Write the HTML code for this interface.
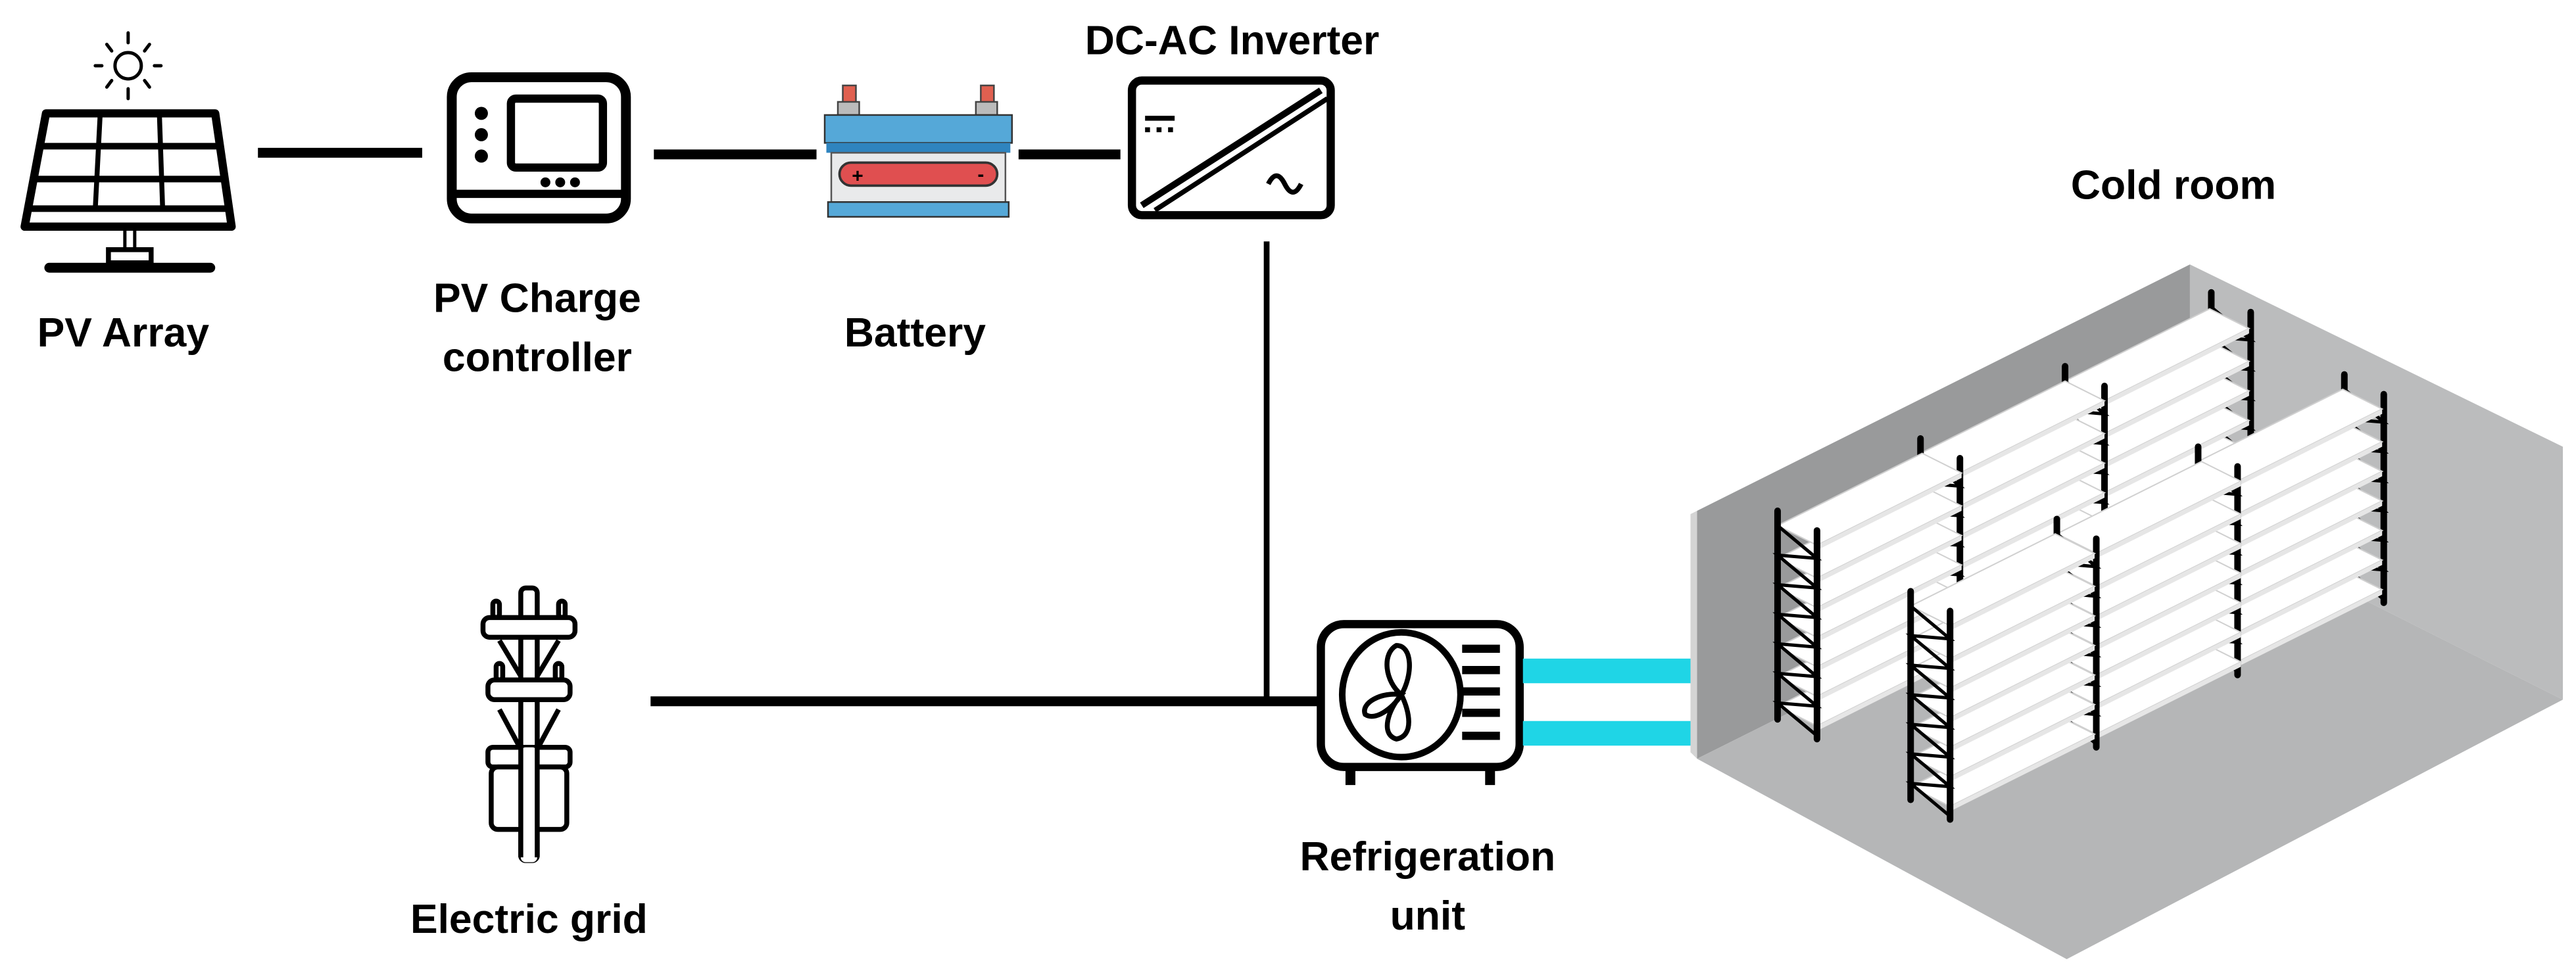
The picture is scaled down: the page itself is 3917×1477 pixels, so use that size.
<!DOCTYPE html>
<html><head><meta charset="utf-8"><style>
html,body{margin:0;padding:0;background:#fff;}
svg{display:block;}
text{font-family:"Liberation Sans",sans-serif;font-weight:bold;font-size:25px;fill:#000;text-anchor:middle;}
</style></head><body>
<svg width="3917" height="1477" viewBox="0 0 1568 591.2" xmlns="http://www.w3.org/2000/svg">
<defs>
<g id="lad">
  <line x1="-24" y1="-12" x2="-24" y2="-139" stroke="#000" stroke-width="4" stroke-linecap="round"/>
  <line x1="0" y1="0" x2="0" y2="-127" stroke="#000" stroke-width="4" stroke-linecap="round"/>
  <polyline points="-24,-130 0,-110 -24,-112 0,-92 -24,-94 0,-74 -24,-76 0,-56 -24,-58 0,-38 -24,-40 0,-20 -24,-22 0,-2" fill="none" stroke="#000" stroke-width="2"/>
</g>
<g id="shelf">
  <polygon points="0,0 88,-44 64,-56 -24,-12" fill="#fff" stroke="#d0d0d0" stroke-width="0.8"/>
  <polygon points="0,0 88,-44 88,-41 0,3" fill="#e6e6e6"/>
</g>
<g id="seg">
  <use href="#shelf" y="-8"/><use href="#shelf" y="-26"/><use href="#shelf" y="-44"/>
  <use href="#shelf" y="-62"/><use href="#shelf" y="-80"/><use href="#shelf" y="-98"/><use href="#shelf" y="-118"/>
  <use href="#lad"/>
</g>
</defs>

<!-- Sun -->
<g stroke="#000" stroke-width="2" fill="none" stroke-linecap="round">
  <circle cx="78" cy="40" r="8"/>
  <line x1="78" y1="20" x2="78" y2="26"/><line x1="78" y1="54" x2="78" y2="60"/>
  <line x1="58" y1="40" x2="62" y2="40"/><line x1="94" y1="40" x2="98" y2="40"/>
  <line x1="65" y1="27" x2="68" y2="31"/><line x1="91" y1="27" x2="88" y2="31"/>
  <line x1="65" y1="53" x2="68" y2="49"/><line x1="91" y1="53" x2="88" y2="49"/>
</g>
<!-- PV panel -->
<g stroke="#000" fill="none">
  <polygon points="28,69 131,69 141,138 15,138" stroke-width="5" stroke-linejoin="round"/>
  <line x1="25" y1="89" x2="133" y2="89" stroke-width="4"/>
  <line x1="22" y1="109" x2="136" y2="109" stroke-width="4"/>
  <line x1="19" y1="127" x2="139" y2="127" stroke-width="4"/>
  <line x1="61" y1="69" x2="58" y2="127" stroke-width="3"/>
  <line x1="97" y1="69" x2="99" y2="127" stroke-width="3"/>
  <line x1="76" y1="138" x2="76" y2="152" stroke-width="2"/><line x1="82" y1="138" x2="82" y2="152" stroke-width="2"/>
  <rect x="66" y="152" width="26" height="8" stroke-width="3"/>
  <line x1="30" y1="163" x2="128" y2="163" stroke-width="6" stroke-linecap="round"/>
</g>
<!-- Connectors -->
<g stroke="#000" stroke-width="6">
  <line x1="157" y1="93" x2="257" y2="93"/>
  <line x1="398" y1="94" x2="497" y2="94"/>
  <line x1="620" y1="94" x2="682" y2="94"/>
  <line x1="396" y1="427" x2="805" y2="427"/>
</g>
<line x1="771" y1="147" x2="771" y2="427" stroke="#000" stroke-width="3.5"/>
<!-- Charge controller -->
<g stroke="#000" fill="none">
  <rect x="275" y="47" width="106" height="86" rx="12" stroke-width="6"/>
  <rect x="311" y="60" width="56" height="42" rx="3" stroke-width="5"/>
  <line x1="277" y1="118" x2="379" y2="118" stroke-width="5"/>
</g>
<g fill="#000">
  <circle cx="293" cy="69" r="4"/><circle cx="293" cy="82" r="4"/><circle cx="293" cy="95" r="4"/>
  <circle cx="332" cy="111" r="3"/><circle cx="341" cy="111" r="3"/><circle cx="350" cy="111" r="3"/>
</g>
<!-- Battery -->
<g>
  <rect x="513" y="52" width="8" height="12" fill="#e06050" stroke="#444" stroke-width="1"/>
  <rect x="597" y="52" width="8" height="12" fill="#e06050" stroke="#444" stroke-width="1"/>
  <rect x="510" y="62" width="13" height="8" fill="#bbb" stroke="#444" stroke-width="1"/>
  <rect x="594" y="62" width="13" height="8" fill="#bbb" stroke="#444" stroke-width="1"/>
  <rect x="502" y="70" width="114" height="17" fill="#55a8d8" stroke="#333" stroke-width="1"/>
  <rect x="503" y="87" width="112" height="6" fill="#2f84bf"/>
  <rect x="506" y="93" width="106" height="30" fill="#e9eaeb" stroke="#555" stroke-width="1"/>
  <rect x="511" y="99" width="96" height="14" rx="7" fill="#e04f50" stroke="#333" stroke-width="1.5"/>
  <text x="522" y="111" style="font-size:12px">+</text><text x="597" y="110" style="font-size:12px">-</text>
  <rect x="504" y="123" width="110" height="9" fill="#55a8d8" stroke="#333" stroke-width="1"/>
</g>
<!-- Inverter -->
<g stroke="#000" fill="none">
  <rect x="689" y="49" width="121" height="82" rx="6" stroke-width="5"/>
  <line x1="695" y1="125" x2="804" y2="55" stroke-width="4"/>
  <line x1="703" y1="128" x2="808" y2="60" stroke-width="3"/>
  <line x1="697" y1="72" x2="715" y2="72" stroke-width="3"/>
  <path d="M697 79 h3 M704 79 h3 M711 79 h3" stroke-width="3"/>
  <path d="M772 112 q5 -10 10 0 t10 0" stroke-width="3"/>
</g>
<!-- Electric grid pole -->
<g stroke="#000" fill="#fff" stroke-width="3">
  <line x1="304" y1="390" x2="322" y2="420" /><line x1="340" y1="390" x2="322" y2="420"/>
  <line x1="304" y1="432" x2="318" y2="458"/><line x1="340" y1="432" x2="326" y2="458"/>
  <rect x="317" y="358" width="10" height="166" rx="3"/>
  <rect x="300" y="366" width="4" height="10" rx="2"/><rect x="340" y="366" width="4" height="10" rx="2"/>
  <rect x="302" y="404" width="4" height="10" rx="2"/><rect x="338" y="404" width="4" height="10" rx="2"/>
  <rect x="294" y="376" width="56" height="12" rx="4"/>
  <rect x="297" y="414" width="50" height="12" rx="4"/>
  <rect x="297" y="455" width="50" height="12" rx="3"/>
  <rect x="299" y="467" width="46" height="38" rx="4"/>
  <rect x="317" y="455" width="10" height="70" rx="3" stroke="none"/>
  <line x1="317" y1="455" x2="317" y2="522"/><line x1="327" y1="455" x2="327" y2="522"/>
</g>
<!-- Refrigeration unit -->
<g stroke="#000" fill="none">
  <rect x="804" y="380" width="121" height="87" rx="14" stroke-width="5"/>
  <ellipse cx="853" cy="423" rx="36" ry="38" stroke-width="4"/>
  <path d="M853 423 c-10 -8 -12 -25 -3 -30 c10 0 10 18 3 30 c5 10 8 25 -3 27 c-10 -3 -5 -18 3 -27 c-12 -2 -25 5 -22 12 c6 4 16 -3 22 -12" stroke-width="3"/>
  <g stroke-width="5"><line x1="890" y1="395" x2="913" y2="395"/><line x1="890" y1="408" x2="913" y2="408"/><line x1="890" y1="421" x2="913" y2="421"/><line x1="890" y1="434" x2="913" y2="434"/><line x1="890" y1="448" x2="913" y2="448"/></g>
  <g stroke-width="6"><line x1="822" y1="469" x2="822" y2="478"/><line x1="907" y1="469" x2="907" y2="478"/></g>
</g>
<rect x="927" y="401" width="106" height="15" fill="#1fd5e6"/>
<rect x="927" y="439" width="106" height="15" fill="#1fd5e6"/>
<!-- Cold room -->
<polygon points="1033,311 1333,161 1333,312 1033,462" fill="#999a9b"/>
<polygon points="1333,161 1560,272 1560,426 1333,312" fill="#bbbcbd"/>
<polygon points="1033,462 1333,312 1560,426 1258,584" fill="#b5b6b7"/>
<polygon points="1033,311 1033,462 1029,458 1029,313" fill="#d4d4d4"/>
<!-- back row (right to left) -->
<use href="#lad" x="1370" y="317"/>
<use href="#seg" x="1281" y="362"/>
<use href="#seg" x="1193" y="406"/>
<use href="#seg" x="1106" y="450"/>
<!-- front row -->
<use href="#lad" x="1451" y="367"/>
<use href="#seg" x="1362" y="411"/>
<use href="#seg" x="1276" y="455"/>
<use href="#seg" x="1187" y="499"/>
<!-- Labels -->
<text x="75" y="211">PV Array</text>
<text x="327" y="190">PV Charge</text>
<text x="327" y="226">controller</text>
<text x="557" y="211">Battery</text>
<text x="750" y="33">DC-AC Inverter</text>
<text x="1323" y="121">Cold room</text>
<text x="322" y="568">Electric grid</text>
<text x="869" y="530">Refrigeration</text>
<text x="869" y="566">unit</text>
</svg>
</body></html>
